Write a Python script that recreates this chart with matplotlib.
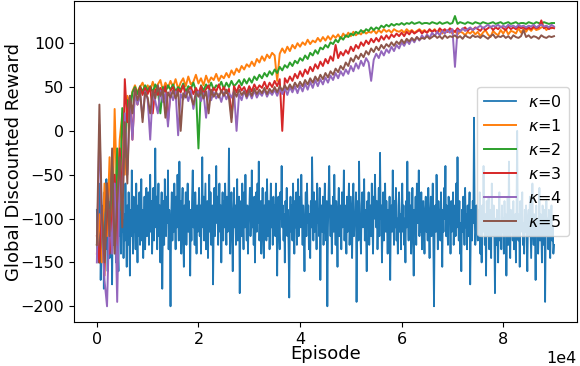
import numpy as np
import matplotlib
matplotlib.use('Agg')
import matplotlib.pyplot as plt

# rewards logged every 125 episodes for kappa=0, every 500 for the rest
reward_k0 = [
    -90, -130, -75, -150, -105, -60, -170, -120, -85, -140,
    -95, -180, -70, -115, -135, -55, -100, -160, -80, -125,
    -145, -90, -65, -110, -175, -95, -130, -50, -115, -85,
    -150, -105, -70, -135, -160, -90, -120, -60, -140, -100,
    -115, -80, -145, -95, -125, -60, -105, -155, -85, -130,
    -70, -110, -165, -90, -120, -45, -100, -140, -75, -115,
    -95, -135, -60, -105, -150, -85, -120, -70, -130, -100,
    -55, -125, -90, -145, -110, -75, -135, -95, -65, -120,
    -100, -70, -130, -90, -50, -115, -80, -140, -105, -65,
    -125, -90, -20, -110, -75, -135, -95, -60, -120, -85,
    -150, -100, -70, -180, -110, -80, -130, -55, -95, -120,
    -75, -105, -45, -135, -90, -115, -200, -100, -70, -125,
    -85, -115, -60, -100, -135, -75, -110, -50, -95, -125,
    -35, -105, -80, -140, -90, -65, -120, -155, -85, -110,
    -70, -130, -95, -60, -115, -80, -105, -165, -90, -125,
    -75, -45, -110, -95, -130, -70, -100, -140, -85, -115,
    -95, -65, -120, -85, -140, -100, -30, -110, -75, -125,
    -90, -60, -135, -105, -80, -145, -95, -50, -115, -70,
    -130, -100, -85, -175, -110, -65, -120, -90, -40, -105,
    -75, -130, -95, -60, -115, -85, -150, -100, -70, -125,
    -80, -110, -60, -95, -130, -75, -115, -90, -20, -105,
    -140, -85, -70, -120, -160, -95, -65, -110, -85, -130,
    -100, -55, -125, -90, -75, -185, -105, -80, -120, -60,
    -95, -135, -70, -110, -50, -100, -125, -85, -140, -95,
    -90, -65, -120, -100, -45, -110, -85, -130, -75, -150,
    -95, -70, -115, -60, -105, -35, -125, -90, -80, -140,
    -100, -65, -115, -145, -85, -105, -70, -125, -55, -95,
    -120, -80, -135, -100, -60, -110, -90, -130, -75, -105,
    -85, -120, -60, -100, -165, -90, -75, -115, -135, -70,
    -100, -40, -110, -85, -125, -95, -150, -80, -105, -65,
    -120, -90, -135, -190, -100, -75, -115, -85, -125, -60,
    -95, -140, -80, -110, -70, -130, -100, -55, -120, -90,
    -75, -110, -50, -95, -130, -85, -115, -160, -100, -70,
    -120, -60, -105, -85, -135, -95, -145, -80, -110, -30,
    -90, -125, -70, -115, -100, -80, -135, -60, -105, -90,
    -120, -65, -170, -100, -85, -115, -75, -130, -95, -60,
    -100, -125, -80, -200, -110, -70, -40, -95, -120, -85,
    -140, -105, -75, -115, -50, -95, -130, -80, -110, -155,
    -90, -65, -120, -100, -85, -135, -70, -110, -95, -45,
    -125, -85, -105, -140, -75, -115, -90, -60, -130, -100,
    -75, -110, -145, -85, -60, -120, -95, -105, -70, -195,
    -100, -80, -125, -35, -95, -115, -140, -85, -70, -110,
    -100, -55, -125, -90, -115, -160, -80, -105, -70, -130,
    -95, -85, -120, -60, -110, -140, -75, -100, -50, -90,
    -110, -80, -135, -95, -65, -120, -25, -100, -85, -150,
    -110, -70, -125, -95, -60, -115, -80, -105, -140, -90,
    -120, -75, -170, -100, -85, -115, -45, -95, -130, -80,
    -110, -65, -125, -100, -140, -85, -70, -115, -95, -135,
    -90, -60, -115, -85, -130, -100, -150, -80, -110, -35,
    -95, -125, -70, -105, -85, -140, -100, -65, -120, -165,
    -90, -110, -75, -130, -60, -105, -95, -45, -120, -85,
    -115, -70, -135, -100, -80, -110, -140, -90, -75, -115,
    -85, -125, -65, -110, -145, -95, -75, -120, -100, -60,
    -130, -200, -105, -85, -115, -50, -95, -135, -80, -110,
    -90, -125, -70, -105, -155, -90, -115, -65, -100, -40,
    -120, -85, -110, -130, -75, -100, -90, -140, -80, -115,
    -95, -70, -130, -100, -85, -120, -60, -110, -30, -95,
    -125, -80, -140, -105, -160, -90, -115, -75, -100, -130,
    -65, -110, -95, -135, -85, -120, -100, -70, -175, -110,
    -90, -125, -80, -105, 15, -95, -130, -115, -85, -100,
    -125, -90, -110, -70, -140, -100, -150, -85, -115, -40,
    -105, -130, -95, -165, -80, -120, -100, -75, -135, -110,
    -90, -145, -60, -105, -120, -85, -115, -185, -100, -130,
    -90, -110, -150, -95, -70, -125, -105, -135, -85, -115,
    -100, -140, -80, -120, -95, -165, -110, -75, -130, -35,
    -105, -145, -90, -115, -100, -125, -80, -135, -110, -95,
    -150, -85, 0, -110, -125, -95, -155, -80, -115, -100,
    -70, -130, -105, -140, -90, -115, -85, -125, -160, -100,
    -90, -120, -75, -110, -145, -100, -60, -115, -130, -95,
    -105, -170, -85, -120, -100, -140, -110, -65, -125, -95,
    -115, -150, -85, -105, -130, -90, -195, -110, -80, -120,
    -100, -135, -90, -115, -145, -105, -85, -125, -110, -140,
    -130,
]

reward_k1 = [
    -140, -95, -150, -60, -120, -30, -135, 25, -80, -10,
    20, -50, 40, 30, 45, 52, 44, 50, 55, 46,
    52, 45, 56, 47, 53, 58, 46, 55, 49, 57,
    50, 59, 48, 55, 60, 51, 62, 53, 56, 64,
    54, 60, 52, 63, 55, 61, 58, 65, 57, 63,
    60, 66, 61, 69, 64, 71, 67, 74, 70, 76,
    73, 79, 74, 82, 78, 85, 80, 87, 83, 89,
    86, 57, 88, 94, 89, 96, 91, 98, 94, 100,
    96, 101, 98, 104, 99, 103, 101, 106, 102, 107,
    103, 108, 104, 109, 106, 110, 105, 111, 107, 112,
    108, 113, 109, 112, 110, 114, 111, 113, 112, 115,
    111, 115, 112, 116, 113, 115, 112, 116, 114, 113,
    115, 112, 116, 113, 115, 112, 114, 116, 113, 115,
    112, 115, 113, 116, 112, 114, 111, 115, 113, 114,
    111, 114, 110, 113, 112, 109, 113, 111, 114, 110,
    113, 108, 112, 115, 110, 107, 114, 111, 109, 115,
    111, 116, 110, 114, 113, 111, 117, 112, 116, 113,
    117, 114, 118, 115, 116, 118, 119, 115, 118, 117,
    118,
]

reward_k2 = [
    -130, -150, -100, -145, -70, -120, -40, -110, -20, -90,
    26, -30, 35, 20, 44, 50, 42, 51, 45, 52,
    46, 51, 44, 53, 47, 20, 50, 44, 52, 47,
    53, 45, 50, 47, 54, 44, 51, 48, 55, 46,
    -20, 52, 46, 53, 48, 55, 47, 52, 50, 56,
    48, 55, 50, 57, 51, 54, 58, 52, 59, 54,
    60, 55, 62, 58, 64, 60, 66, 62, 68, 64,
    70, 66, 73, 69, 75, 72, 78, 74, 80, 77,
    83, 80, 86, 82, 89, 86, 92, 88, 95, 93,
    98, 95, 101, 99, 104, 101, 107, 104, 109, 107,
    111, 109, 113, 111, 115, 112, 116, 114, 118, 115,
    118, 116, 120, 118, 121, 119, 122, 120, 122, 121,
    123, 121, 123, 122, 124, 122, 123, 124, 122, 123,
    123, 122, 124, 123, 122, 124, 122, 123, 124, 122,
    123, 131, 122, 124, 123, 122, 124, 123, 122, 124,
    123, 122, 124, 123, 122, 123, 124, 122, 123, 124,
    122, 123, 124, 122, 123, 124, 122, 123, 123, 122,
    124, 123, 122, 124, 123, 122, 124, 123, 122, 123,
    123,
]

reward_k3 = [
    -120, -150, -90, -165, -60, -140, -100, -50, -130, -20,
    -80, 59, 10, 40, -10, 48, 30, 50, 41, 49,
    42, 50, 20, 47, 41, 49, 43, 51, 10, 46,
    50, 41, 48, 44, 52, 40, 47, 50, 42, 49,
    43, 51, 42, 48, 52, 41, 49, 45, 53, 44,
    50, 43, 48, 15, 51, 44, 52, 46, 50, 43,
    51, 45, 53, 47, 52, 49, 56, 48, 55, 50,
    57, 51, 59, 0, 60, 55, 62, 57, 65, 60,
    68, 62, 70, 65, 73, 68, 76, 71, 79, 74,
    82, 77, 85, 80, 98, 83, 90, 86, 92, 88,
    96, 91, 98, 94, 101, 97, 103, 99, 105, 101,
    106, 102, 108, 104, 109, 105, 110, 107, 111, 108,
    112, 108, 113, 110, 114, 111, 113, 115, 111, 114,
    112, 116, 113, 115, 112, 117, 114, 116, 113, 117,
    115, 113, 117, 114, 116, 118, 114, 117, 115, 118,
    116, 114, 118, 115, 117, 119, 115, 118, 116, 119,
    117, 115, 119, 116, 118, 116, 119, 117, 118, 116,
    118, 116, 119, 117, 118, 126, 117, 119, 116, 118,
    117,
]

reward_k4 = [
    -150, 7, -110, -170, -200, -90, -140, -60, -195, -40,
    -100, 20, -50, 35, -10, 44, 30, 42, 15, 45,
    36, -10, 45, 34, 20, 46, 33, 43, 5, 44,
    35, 45, -5, 42, 36, 44, 34, 46, 25, 41,
    45, 34, 43, 15, 46, 35, 44, 37, 42, 33,
    44, 36, 43, 38, 45, 0, 42, 35, 46, 37,
    44, 37, 46, 38, 44, 40, 47, 39, 45, 41,
    47, 40, 48, 42, 49, 41, 50, 44, 51, 43,
    52, 45, 54, 47, 56, 49, 58, 51, 59, 53,
    61, 55, 63, 58, 66, 60, 68, 63, 70, 65,
    74, 68, 77, 71, 80, 74, 83, 78, 57, 81,
    88, 83, 91, 86, 93, 89, 96, 91, 98, 94,
    101, 97, 103, 99, 105, 101, 107, 103, 109, 105,
    110, 106, 112, 108, 113, 109, 114, 111, 115, 112,
    116, 73, 115, 113, 117, 114, 116, 118, 115, 117,
    118, 120, 117, 119, 121, 118, 120, 119, 121, 118,
    120, 118, 121, 119, 120, 118, 121, 119, 120, 118,
    120, 119, 121, 118, 120, 121, 119, 120, 118, 121,
    119,
]

reward_k5 = [
    -130, 30, -100, -150, -60, -120, -20, -140, -80, -30,
    -110, 10, -60, 40, 20, 48, 35, 46, 10, 44,
    38, 20, 46, 37, 52, 40, 47, 15, 44, 38,
    46, 37, 45, 0, 43, 38, 47, 39, 30, 44,
    39, 46, 37, 45, 20, 47, 39, 44, 38, 46,
    40, 47, 38, 10, 46, 39, 47, 41, 45, 39,
    47, 40, 48, 42, 47, 43, 49, 42, 48, 44,
    50, 44, 51, 46, 52, 47, 53, 48, 55, 50,
    56, 51, 58, 53, 60, 55, 62, 57, 64, 59,
    66, 61, 68, 64, 71, 67, 74, 70, 78, 74,
    83, 79, 86, 82, 88, 84, 91, 87, 94, 90,
    96, 92, 98, 94, 99, 96, 101, 97, 102, 99,
    104, 100, 105, 102, 106, 103, 107, 104, 106, 105,
    108, 105, 107, 109, 106, 108, 105, 109, 106, 108,
    107, 109, 106, 108, 105, 109, 107, 106, 109, 107,
    108, 106, 109, 107, 105, 108, 110, 106, 108, 107,
    109, 106, 108, 105, 109, 107, 106, 108, 115, 107,
    109, 106, 108, 107, 105, 109, 107, 106, 108, 107,
    108,
]

labels = [r'$\kappa$=0', r'$\kappa$=1', r'$\kappa$=2', r'$\kappa$=3', r'$\kappa$=4', r'$\kappa$=5']
series = [reward_k0, reward_k1, reward_k2, reward_k3, reward_k4, reward_k5]
steps = [125, 500, 500, 500, 500, 500]
widths = [1.3, 1.4, 1.4, 1.4, 1.4, 1.4]

fig = plt.figure(figsize=(5.8, 3.66), dpi=100)
ax = fig.add_axes([0.1276, 0.120, 0.867, 0.877])

for vals, step, lw, lab in zip(series, steps, widths, labels):
    episodes = np.arange(len(vals)) * step
    ax.plot(episodes, vals, linewidth=lw, label=lab)

ax.set_xlim(-4500, 94500)
ax.set_ylim(-218, 148)
ax.set_xticks([0, 20000, 40000, 60000, 80000])
ax.set_yticks([-200, -150, -100, -50, 0, 50, 100])
ax.ticklabel_format(axis='x', style='sci', scilimits=(4, 4))
ax.tick_params(labelsize=11.5)
ax.xaxis.get_offset_text().set_fontsize(11.5)
ax.set_xlabel('Episode', fontsize=13, labelpad=-1)
ax.set_ylabel('Global Discounted Reward', fontsize=13)
ax.yaxis.set_label_coords(-0.101, 0.5)
ax.legend(loc='center right', fontsize=11.5)

fig.savefig('out.png', dpi=100)
